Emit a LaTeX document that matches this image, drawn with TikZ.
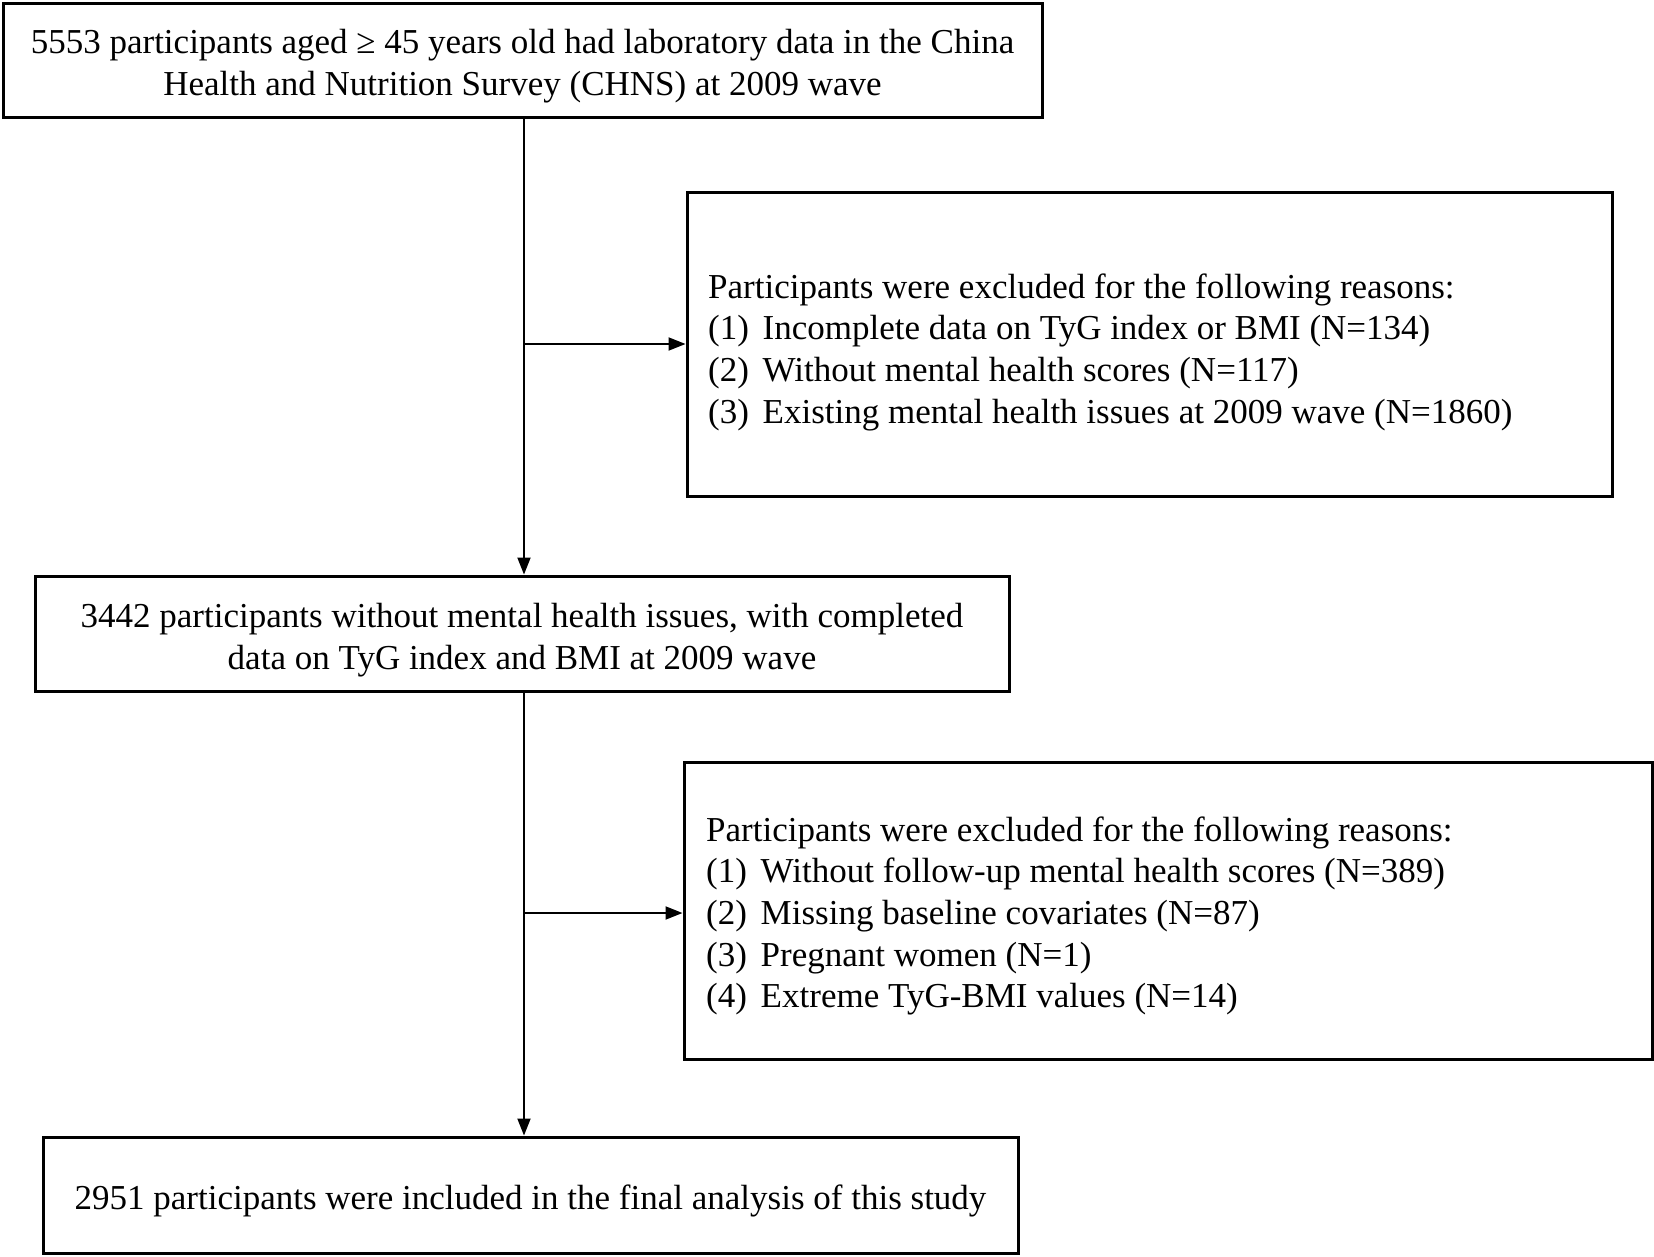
\documentclass[tikz,border=0pt]{standalone}
\usepackage{fontspec}
\setmainfont{Liberation Serif}
\usetikzlibrary{arrows.meta}
\newcommand{\itm}[1]{(#1)\hspace{5pt} }
\begin{document}
\begin{tikzpicture}[x=1pt,y=-1pt,
  box/.style={draw,line width=3pt,inner sep=0pt},
  txt/.style={inner sep=0pt,align=center,font=\fontsize{35}{42}\selectfont},
  extxt/.style={inner sep=0pt,align=left,font=\fontsize{35}{41.7}\selectfont},
  arr/.style={line width=2pt,-{Triangle[length=17pt,width=13pt]}}]
\useasboundingbox[fill=white] (0,0) rectangle (1654,1256);
\node[box,minimum width=1039pt,minimum height=114pt] (b1) at (522.5,60) {};
\node[txt] (b1t) at (522.5,66)
  {5553 participants aged ≥ 45 years old had laboratory data in the China\\Health and Nutrition Survey (CHNS) at 2009 wave};
\node[box,minimum width=974pt,minimum height=115pt] (b2) at (522,633.5) {};
\node[txt] (b2t) at (522,640)
  {3442 participants without mental health issues, with completed\\data on TyG index and BMI at 2009 wave};
\node[box,minimum width=975pt,minimum height=116pt] (b3) at (530.5,1195) {};
\node[txt] (b3t) at (530.5,1201)
  {2951 participants were included in the final analysis of this study};
\node[box,minimum width=925pt,minimum height=304pt] (e1) at (1149.5,344) {};
\node[extxt,anchor=west] (e1t) at (708,352)
  {Participants were excluded for the following reasons:\\
   \itm{1}Incomplete data on TyG index or BMI (N=134)\\
   \itm{2}Without mental health scores (N=117)\\
   \itm{3}Existing mental health issues at 2009 wave (N=1860)};
\node[box,minimum width=968pt,minimum height=297pt] (e2) at (1168,910.5) {};
\node[extxt,anchor=west] (e2t) at (706,916)
  {Participants were excluded for the following reasons:\\
   \itm{1}Without follow-up mental health scores (N=389)\\
   \itm{2}Missing baseline covariates (N=87)\\
   \itm{3}Pregnant women (N=1)\\
   \itm{4}Extreme TyG-BMI values (N=14)};
\coordinate (s1) at (524,117);
\coordinate (j1) at (524,344);
\coordinate (s2) at (524,691);
\coordinate (j2) at (524,913);
\draw[arr] (s1) -- (s1 |- b2.north);
\draw[arr] (j1) -- (e1.west |- j1);
\draw[arr] (s2) -- (s2 |- b3.north);
\draw[arr] (j2) -- (e2.west |- j2);
\end{tikzpicture}
\end{document}
